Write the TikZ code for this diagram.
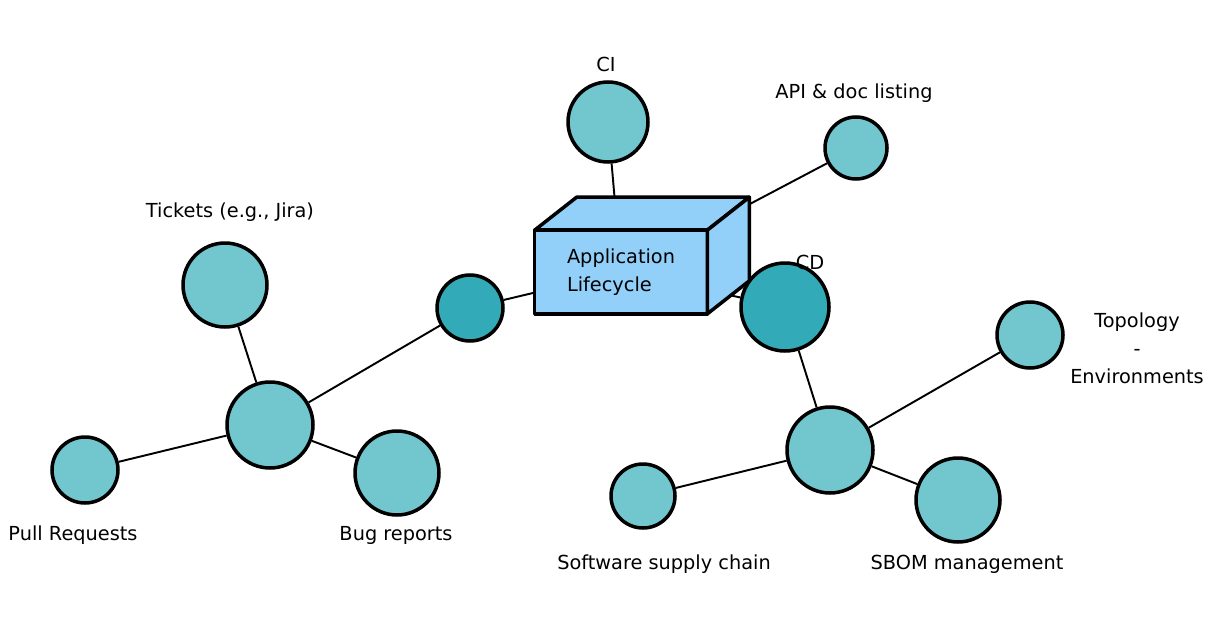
\documentclass[tikz,border=0pt]{standalone}
\usepackage{fontspec}
\setmainfont{DejaVu Sans}
\usetikzlibrary{backgrounds}

\definecolor{tealpale}{HTML}{72C6CE}
\definecolor{tealdeep}{HTML}{33AAB8}
\definecolor{boxblue}{HTML}{92D0FA}

\begin{document}
\begin{tikzpicture}[x=0.02cm, y=-0.02cm,
  leaf/.style={circle, draw, line width=2pt, fill=tealpale, inner sep=0pt},
  hub/.style={leaf, fill=tealdeep},
  tag/.style={font=\fontsize{11}{16}\selectfont, align=center},
  link/.style={line width=1.1pt},
  face/.style={draw, fill=boxblue, line width=2pt, line join=round}]
\useasboundingbox (0,0) rectangle (1213,625);

% Box (front face)
\node[fill=boxblue, minimum width=3.44cm, minimum height=1.66cm, align=left,
      font=\fontsize{11}{16}\selectfont] (box) at (621,272) {Application\\Lifecycle};
% Box (top and side)
\draw[face] (box.north west) -- ++(42,-33) -- ([shift={(42,-33)}]box.north east)
  -- (box.north east) -- cycle;
\draw[face] (box.north east) -- ++(42,-33) -- ([shift={(42,-33)}]box.south east)
  -- (box.south east) -- cycle;
\draw[line width=2pt, line join=round] (box.north west) rectangle (box.south east);

% Circles
\node[leaf, minimum size=1.6cm] (ci) at (608,122) {};
\node[leaf, minimum size=1.24cm] (api) at (856,148) {};
\node[hub, minimum size=1.32cm] (lnk) at (470,308) {};
\node[hub, minimum size=1.76cm] (cd) at (785,307) {};
\node[leaf, minimum size=1.68cm] (tickets) at (225,285) {};
\node[leaf, minimum size=1.72cm] (lhub) at (270,425) {};
\node[leaf, minimum size=1.32cm] (pr) at (85,470) {};
\node[leaf, minimum size=1.68cm] (bug) at (397,473) {};
\node[leaf, minimum size=1.72cm] (rhub) at (830,450) {};
\node[leaf, minimum size=1.32cm] (topo) at (1030,335) {};
\node[leaf, minimum size=1.28cm] (ssc) at (643,496) {};
\node[leaf, minimum size=1.68cm] (sbom) at (958,500) {};

% Labels
\node[tag] (ci-l) at (606,64) {CI};
\node[tag] (api-l) at (854,93) {API \& doc listing};
\node[tag] (cd-l) at (810,262) {CD};
\node[tag] (tickets-l) at (230,212) {Tickets (e.g., Jira)};
\node[tag] (pr-l) at (73,535) {Pull Requests};
\node[tag] (bug-l) at (396,535) {Bug reports};
\node[tag] (topo-l) at (1137,348) {Topology\\-\\Environments};
\node[tag] (ssc-l) at (664,564) {Software supply chain};
\node[tag] (sbom-l) at (967,564) {SBOM management};

% Connectors
\begin{scope}[on background layer]
\draw[link] (ci) -- (box.center);
\draw[link] (api) -- (box.center);
\draw[link] (cd) -- (box.center);
\draw[link] (lnk) -- (box.center);
\draw[link] (lhub) -- (lnk);
\draw[link] (lhub) -- (tickets);
\draw[link] (lhub) -- (pr);
\draw[link] (lhub) -- (bug);
\draw[link] (cd) -- (rhub);
\draw[link] (rhub) -- (topo);
\draw[link] (rhub) -- (ssc);
\draw[link] (rhub) -- (sbom);
\end{scope}
\end{tikzpicture}
\end{document}
